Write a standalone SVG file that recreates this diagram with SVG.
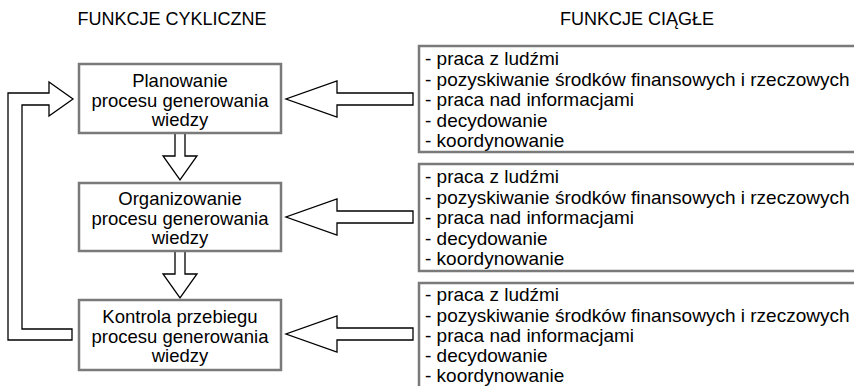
<svg xmlns="http://www.w3.org/2000/svg" width="854" height="386" viewBox="0 0 854 386">
<style>
.box{fill:#ffffff;stroke:#7a7a7a;stroke-width:2.5}
.arr{fill:#ffffff;stroke:#000000;stroke-width:1.3;stroke-linejoin:miter}
.hd{font-family:"Liberation Sans",Arial,sans-serif;font-size:18px;fill:#000;text-anchor:middle}
.lt{font-family:"Liberation Sans",Arial,sans-serif;font-size:18.5px;fill:#000;text-anchor:middle}
.rt{font-family:"Liberation Sans",Arial,sans-serif;font-size:19px;fill:#000}
</style>
<rect width="854" height="386" fill="#ffffff"/>
<g id="headings">
<text class="hd" x="172" y="25">FUNKCJE CYKLICZNE</text>
<text class="hd" x="637" y="25">FUNKCJE CIĄGŁE</text>
</g>
<g id="connectors">
<polygon class="arr" points="72,329 22,329 22,105 49,105 49,116 73,99 49,82 49,93 8,93 8,340 72,340"/>
<polygon class="arr" points="175,133 175,156 163,156 180,180 197,156 185,156 185,133"/>
<polygon class="arr" points="175,251 175,274 163,274 180,298 197,274 185,274 185,251"/>
<polygon class="arr" points="413,93 337,93 337,81 286,99 337,117 337,105 413,105"/>
<polygon class="arr" points="413,211 337,211 337,199 286,217 337,235 337,223 413,223"/>
<polygon class="arr" points="413,328 337,328 337,316 286,334 337,352 337,340 413,340"/>
</g>
<g id="plan">
<rect class="box" x="79" y="64" width="202" height="69"/>
<text class="lt" x="180" y="87">Planowanie</text>
<text class="lt" x="180" y="106.5">procesu generowania</text>
<text class="lt" x="180" y="126">wiedzy</text>
</g>
<g id="org">
<rect class="box" x="79" y="183" width="202" height="68"/>
<text class="lt" x="180" y="205">Organizowanie</text>
<text class="lt" x="180" y="225">procesu generowania</text>
<text class="lt" x="180" y="244">wiedzy</text>
</g>
<g id="kontrola">
<rect class="box" x="79" y="300" width="202" height="70"/>
<text class="lt" x="180" y="323">Kontrola przebiegu</text>
<text class="lt" x="180" y="343">procesu generowania</text>
<text class="lt" x="180" y="362">wiedzy</text>
</g>
<g id="ciagle1">
<rect class="box" x="419" y="46" width="450" height="106"/>
<text class="rt" x="425" y="65">- praca z ludźmi</text>
<text class="rt" x="425" y="85.5">- pozyskiwanie środków finansowych i rzeczowych</text>
<text class="rt" x="425" y="106">- praca nad informacjami</text>
<text class="rt" x="425" y="126.5">- decydowanie</text>
<text class="rt" x="425" y="147">- koordynowanie</text>
</g>
<g id="ciagle2">
<rect class="box" x="419" y="164" width="450" height="107"/>
<text class="rt" x="425" y="183">- praca z ludźmi</text>
<text class="rt" x="425" y="203.5">- pozyskiwanie środków finansowych i rzeczowych</text>
<text class="rt" x="425" y="224">- praca nad informacjami</text>
<text class="rt" x="425" y="244.5">- decydowanie</text>
<text class="rt" x="425" y="265">- koordynowanie</text>
</g>
<g id="ciagle3">
<rect class="box" x="419" y="283" width="450" height="120"/>
<text class="rt" x="425" y="301">- praca z ludźmi</text>
<text class="rt" x="425" y="321.5">- pozyskiwanie środków finansowych i rzeczowych</text>
<text class="rt" x="425" y="342">- praca nad informacjami</text>
<text class="rt" x="425" y="362">- decydowanie</text>
<text class="rt" x="425" y="381.5">- koordynowanie</text>
</g>
</svg>
